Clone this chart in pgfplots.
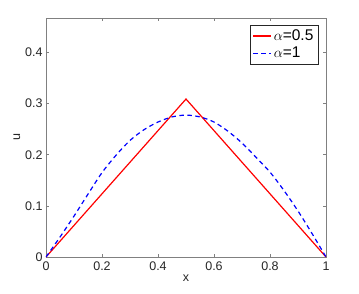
\documentclass[border=0pt]{standalone}
\usepackage{pgfplots}
\pgfplotsset{compat=1.18}
\usepackage{fontspec}
\setmainfont{Liberation Sans}
\definecolor{mgray}{RGB}{38,38,38}
\definecolor{agray}{RGB}{128,128,128}
\begin{document}
\begin{tikzpicture}[x=1pt,y=1pt]
\path[use as bounding box] (-46pt,-36pt) rectangle (313pt,257pt);
\begin{axis}[
  at={(0pt,0pt)}, anchor=south west,
  scale only axis, width=280pt, height=239pt,
  xmin=0, xmax=1, ymin=0, ymax=0.4675,
  xtick={0,0.2,0.4,0.6,0.8,1},
  ytick={0,0.1,0.2,0.3,0.4},
  xticklabels={0,0.2,0.4,0.6,0.8,1},
  yticklabels={0,0.1,0.2,0.3,0.4},
  tick align=inside,
  major tick length=3pt,
  axis line style={agray, line width=0.6pt},
  every tick/.style={agray, line width=0.6pt},
  tick label style={font=\fontsize{12.5}{14}\selectfont, text=mgray},
  xticklabel style={yshift=-1pt},
  xlabel={x}, ylabel={u},
  label style={font=\fontsize{12.5}{14}\selectfont, text=mgray},
  xlabel style={yshift=2pt},
  ylabel style={yshift=-2pt},
  legend style={at={(axis description cs:0.972,0.97)}, anchor=north east,
    draw=mgray, line width=0.5pt, font=\fontsize{15.5}{17}\selectfont,
    inner sep=2.5pt, row sep=1pt, legend cell align=left},
  legend image code/.code={\draw[mark repeat=2,mark phase=2,#1] plot coordinates {(0pt,0pt) (9pt,0pt) (18pt,0pt)};},
]
\addplot[red, line width=1.2pt] coordinates {(0,0) (0.5,0.309) (1,0)};
\addlegendentry{$\alpha$=0.5}
\addplot[blue, line width=1.2pt, dash pattern=on 4.5pt off 3.5pt, smooth] coordinates {
(0,0) (0.05,0.039) (0.1,0.080) (0.15,0.123) (0.2,0.165) (0.25,0.199) (0.3,0.228)
(0.35,0.249) (0.4,0.264) (0.45,0.274) (0.5,0.2776) (0.55,0.274) (0.6,0.264)
(0.65,0.246) (0.7,0.223) (0.75,0.195) (0.8,0.166) (0.85,0.130) (0.9,0.090)
(0.95,0.046) (1,0)};
\addlegendentry{$\alpha$=1}
\end{axis}
\end{tikzpicture}
\end{document}
